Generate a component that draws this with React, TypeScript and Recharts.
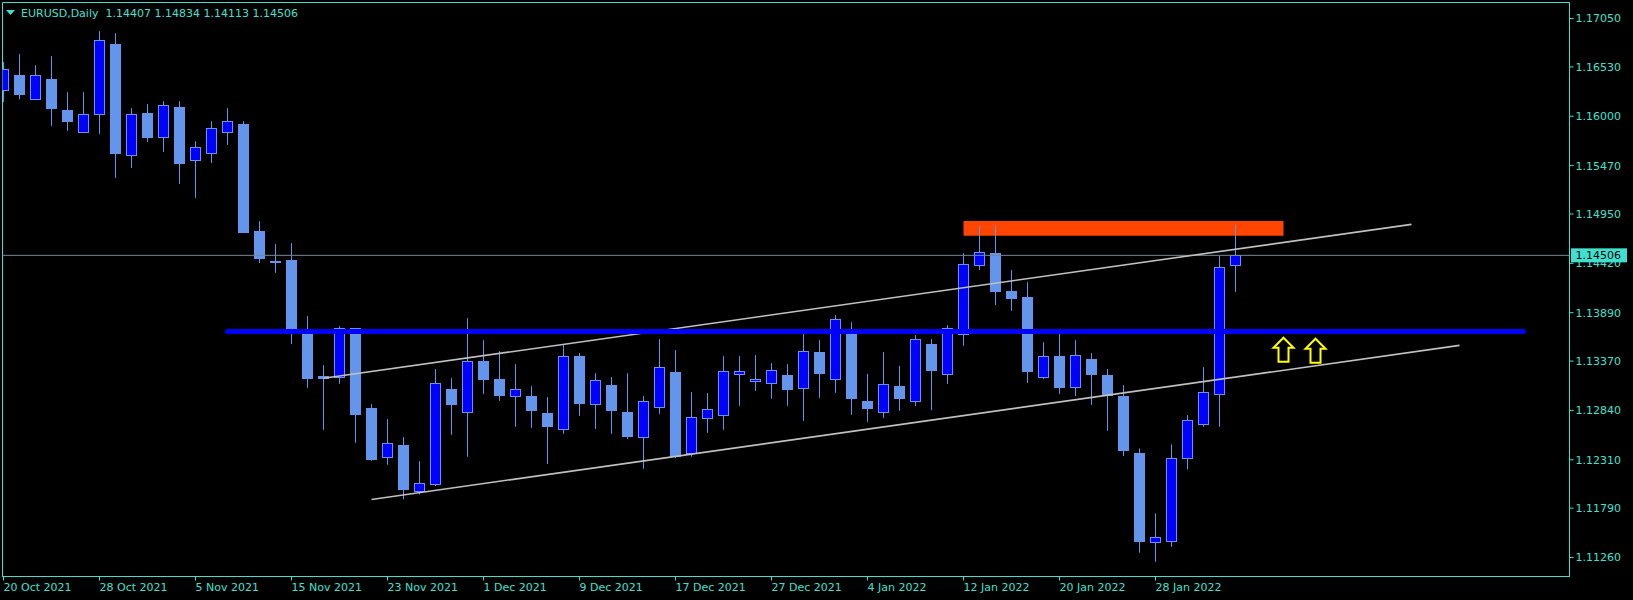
import React from "react";
import {
  ComposedChart,
  Bar,
  Scatter,
  XAxis,
  YAxis,
  ReferenceLine,
  ReferenceArea,
} from "recharts";

// daily EURUSD bars, 20 Oct 2021 .. 4 Feb 2022
const opens = [
  1.16287, 1.16441, 1.16186, 1.16398, 1.16065, 1.15832, 1.16019, 1.16774, 1.15579, 1.1603,
  1.15778, 1.16097, 1.15525, 1.156, 1.15826, 1.15915, 1.14766, 1.14443, 1.14454, 1.1367,
  1.13208, 1.13194, 1.13721, 1.12865, 1.12335, 1.12467, 1.11976, 1.12045, 1.13069, 1.12818,
  1.13369, 1.13176, 1.1299, 1.12994, 1.12811, 1.12636, 1.13423, 1.12904, 1.13108, 1.12822,
  1.1255, 1.12872, 1.13251, 1.12378, 1.12754, 1.12786, 1.13227, 1.13151, 1.1313, 1.13216,
  1.13076, 1.13466, 1.13173, 1.13692, 1.1294, 1.12818, 1.13101, 1.12943, 1.13549, 1.13227,
  1.13656, 1.14397, 1.14529, 1.14121, 1.14057, 1.13194, 1.13423, 1.13087, 1.13388, 1.13219,
  1.12994, 1.12378, 1.11422, 1.11433, 1.12324, 1.1269, 1.13012, 1.14407,
];
const highs = [
  1.16584, 1.16667, 1.16548, 1.16645, 1.16258, 1.16258, 1.16914, 1.16892, 1.16087, 1.1613,
  1.16162, 1.16162, 1.15732, 1.15947, 1.16087, 1.15947, 1.14873, 1.14626, 1.14637, 1.13853,
  1.13326, 1.13745, 1.13724, 1.12908, 1.12747, 1.12553, 1.12295, 1.13284, 1.13187, 1.13831,
  1.13595, 1.13477, 1.13337, 1.13101, 1.12983, 1.13541, 1.13455, 1.1324, 1.13198, 1.1324,
  1.12994, 1.13606, 1.13488, 1.13036, 1.13026, 1.13423, 1.13423, 1.13434, 1.13348, 1.13337,
  1.1366, 1.13595, 1.13863, 1.13788, 1.13233, 1.13466, 1.13319, 1.13649, 1.13606, 1.13756,
  1.14529, 1.14819, 1.1483, 1.14347, 1.14218, 1.13573, 1.13702, 1.13595, 1.13455, 1.13284,
  1.13112, 1.12432, 1.11734, 1.12475, 1.1279, 1.13305, 1.145, 1.14834,
];
const lows = [
  1.16154, 1.16183, 1.16178, 1.15897, 1.15843, 1.15821, 1.15811, 1.15338, 1.15445, 1.15725,
  1.15617, 1.15274, 1.15123, 1.15499, 1.15692, 1.14747, 1.14425, 1.14318, 1.13552, 1.13083,
  1.12632, 1.13126, 1.12492, 1.12299, 1.12256, 1.11884, 1.11938, 1.12027, 1.12578, 1.12342,
  1.13018, 1.12943, 1.12664, 1.12653, 1.12266, 1.12589, 1.12782, 1.12642, 1.12589, 1.12535,
  1.12213, 1.12803, 1.12328, 1.12342, 1.12599, 1.12632, 1.12889, 1.1305, 1.12965, 1.12889,
  1.12728, 1.12975, 1.13029, 1.12793, 1.12717, 1.1276, 1.12836, 1.12889, 1.12843, 1.13126,
  1.13534, 1.1435, 1.13971, 1.1391, 1.13136, 1.13179, 1.13018, 1.12994, 1.129, 1.12621,
  1.12349, 1.11311, 1.11214, 1.11375, 1.12206, 1.12664, 1.12664, 1.14113,
];
const closes = [
  1.16505, 1.1624, 1.16438, 1.1609, 1.1595, 1.16019, 1.16824, 1.15607, 1.16019, 1.15772,
  1.16116, 1.15499, 1.15668, 1.15872, 1.15947, 1.14758, 1.14479, 1.14433, 1.13678, 1.1319,
  1.13184, 1.13721, 1.12803, 1.1232, 1.12485, 1.11998, 1.12056, 1.1313, 1.12911, 1.13369,
  1.13179, 1.13007, 1.13069, 1.12846, 1.12675, 1.1342, 1.12922, 1.13162, 1.12846, 1.12567,
  1.12937, 1.13302, 1.12349, 1.12768, 1.12851, 1.13259, 1.13259, 1.13176, 1.1327, 1.13072,
  1.13474, 1.13244, 1.13817, 1.12975, 1.12868, 1.13119, 1.12975, 1.13602, 1.13276, 1.13724,
  1.14408, 1.14537, 1.14124, 1.14049, 1.13265, 1.1342, 1.13093, 1.13431, 1.13233, 1.13004,
  1.12417, 1.1144, 1.11476, 1.12324, 1.12733, 1.13033, 1.14376, 1.14506,
];

const dateTicks = [0, 6, 12, 18, 24, 30, 36, 42, 48, 54, 60, 66, 72];
const dateLabels = [
  "20 Oct 2021", "28 Oct 2021", "5 Nov 2021", "15 Nov 2021", "23 Nov 2021", "1 Dec 2021",
  "9 Dec 2021", "17 Dec 2021", "27 Dec 2021", "4 Jan 2022", "12 Jan 2022", "20 Jan 2022",
  "28 Jan 2022",
];
const priceTicks = [
  1.1126, 1.1179, 1.1231, 1.1284, 1.1337, 1.1389, 1.1442, 1.1495, 1.1547, 1.16, 1.1653, 1.1705,
];

const lastPrice = 1.14506;
const title = "EURUSD,Daily  1.14407 1.14834 1.14113 1.14506";

// objects drawn on the chart (x in bar numbers)
const supportLine = [{ x: 14, y: 1.13688 }, { x: 95, y: 1.13688 }];
const upperChannel = [{ x: 20, y: 1.13185 }, { x: 88, y: 1.14839 }];
const lowerChannel = [{ x: 23, y: 1.11884 }, { x: 91, y: 1.13539 }];
const zoneX = [60, 80];
const zoneY = [1.14717, 1.14875];
const arrows = [{ i: 80, p: 1.13632 }, { i: 82, p: 1.13621 }];

const candles = opens.map((o, i) => ({
  i,
  open: o,
  high: highs[i],
  low: lows[i],
  close: closes[i],
}));

const FG = "#40E0D0";
const WICK = "#6495ED";
const BULL = "#0000FF";
const FONT = "DejaVu Sans, sans-serif";
const X_DOMAIN: [number, number] = [-0.0625, 97.875];
const Y_DOMAIN: [number, number] = [1.11056, 1.17222];

function Candle(props: any) {
  const { x, y, width, height, payload } = props;
  if (x == null || !payload) return null;
  const top = Math.min(y, y + height);
  const h = Math.abs(height);
  const { open, high, low, close } = payload;
  const k = h / (high - low);
  const py = (v: number) => top + (high - v) * k;
  const cx = Math.round(x + width / 2 - 0.5) + 0.5;
  const bull = close >= open;
  const bTop = Math.round(py(Math.max(open, close))) + 0.5;
  const bBot = Math.max(Math.round(py(Math.min(open, close))) + 0.5, bTop + 1);
  return (
    <g>
      <line x1={cx} x2={cx} y1={top} y2={top + h} stroke={WICK} strokeWidth={1} />
      <rect
        x={cx - 5}
        y={bTop}
        width={10}
        height={bBot - bTop}
        fill={bull ? BULL : WICK}
        stroke={WICK}
        strokeWidth={1}
      />
    </g>
  );
}

function UpArrow(props: any) {
  const { cx, cy } = props;
  return (
    <path
      d="M0,1 L10,11 L5,11 L5,25 L-5,25 L-5,11 L-10,11 Z"
      transform={`translate(${cx},${cy})`}
      fill="none"
      stroke="#FFFF00"
      strokeWidth={2}
    />
  );
}

function DateTick(props: any) {
  const { x, y, payload } = props;
  const label = dateLabels[dateTicks.indexOf(payload.value)];
  return (
    <text x={x} y={y + 8.5} fill={FG} fontSize={11} fontFamily={FONT} textAnchor="start">
      {label}
    </text>
  );
}

function PriceTag(props: any) {
  const vb = props.viewBox || {};
  const x = vb.x + vb.width + 1.5;
  const y = vb.y;
  return (
    <g>
      <rect x={x} y={y - 7} width={56} height={14} fill={FG} />
      <text x={x + 4.5} y={y + 4} fill="#000" fontSize={11} fontFamily={FONT}>
        {lastPrice.toFixed(5)}
      </text>
    </g>
  );
}

export default function App() {
  return (
    <div
      style={{
        position: "absolute",
        left: 0,
        top: 0,
        width: 1633,
        height: 600,
        background: "#000",
      }}
    >
      <ComposedChart
        width={1633}
        height={600}
        data={candles}
        margin={{ top: 2.5, right: 3.5, bottom: 3.5, left: 2.5 }}
      >
        <XAxis
          dataKey="i"
          type="number"
          domain={X_DOMAIN}
          allowDataOverflow
          ticks={dateTicks}
          interval={0}
          height={20}
          tickSize={4}
          axisLine={{ stroke: FG }}
          tickLine={{ stroke: FG }}
          tick={<DateTick />}
        />
        <YAxis
          orientation="right"
          type="number"
          domain={Y_DOMAIN}
          allowDataOverflow
          ticks={priceTicks}
          interval={0}
          width={60}
          tickSize={4}
          axisLine={{ stroke: FG }}
          tickLine={{ stroke: FG }}
          tick={{ fill: FG, fontSize: 11, fontFamily: FONT }}
          tickFormatter={(v: number) => v.toFixed(5)}
        />
        <ReferenceArea
          x1={X_DOMAIN[0]}
          x2={X_DOMAIN[1]}
          y1={Y_DOMAIN[0]}
          y2={Y_DOMAIN[1]}
          fill="none"
          stroke={FG}
          strokeWidth={1}
          fillOpacity={0}
        />
        <ReferenceArea
          x1={zoneX[0]}
          x2={zoneX[1]}
          y1={zoneY[0]}
          y2={zoneY[1]}
          fill="#FF4500"
          fillOpacity={1}
          stroke="none"
        />
        <ReferenceLine y={lastPrice} stroke="#778899" strokeWidth={1} />
        <Bar
          dataKey={(d: any) => [d.low, d.high]}
          barSize={11}
          shape={<Candle />}
          isAnimationActive={false}
        />
        <ReferenceLine segment={upperChannel} stroke="#C0C0C0" strokeWidth={1.6} />
        <ReferenceLine segment={lowerChannel} stroke="#C0C0C0" strokeWidth={1.6} />
        <ReferenceLine
          segment={supportLine}
          stroke="#0000FF"
          strokeWidth={5}
          strokeLinecap="round"
        />
        <Scatter data={arrows} dataKey="p" shape={<UpArrow />} isAnimationActive={false} />
        <ReferenceLine y={lastPrice} stroke="none" label={<PriceTag />} />
      </ComposedChart>
      <svg
        style={{ position: "absolute", left: 6, top: 10 }}
        width={10}
        height={6}
      >
        <polygon points="0,0 9,0 4.5,5" fill={FG} />
      </svg>
      <div
        style={{
          position: "absolute",
          left: 21,
          top: 7,
          color: FG,
          fontSize: 11,
          lineHeight: "13px",
          fontFamily: FONT,
          whiteSpace: "pre",
        }}
      >
        {title}
      </div>
    </div>
  );
}
